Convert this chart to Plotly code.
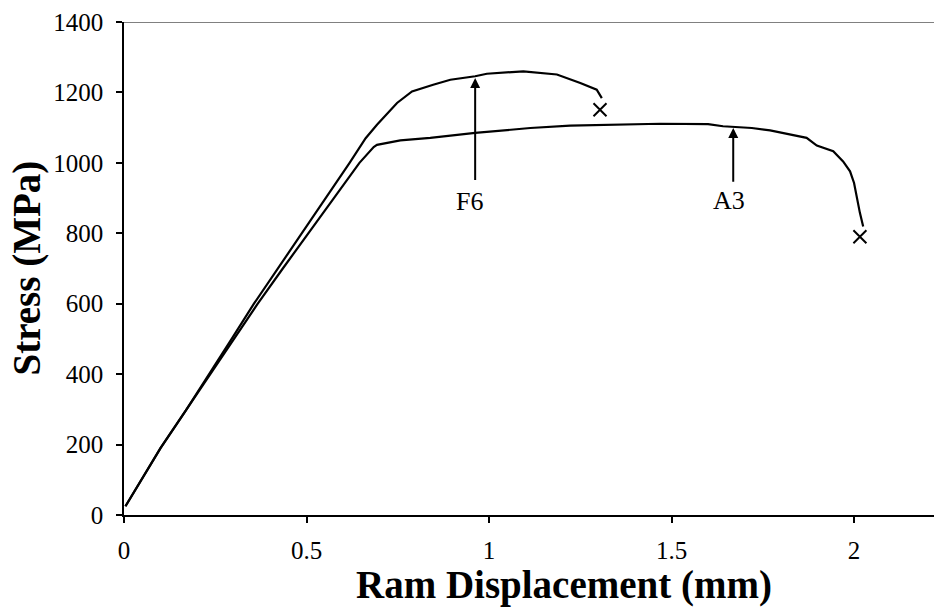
import plotly.graph_objects as go

# A3 specimen (lower curve)
a3_x = [0.004, 0.05, 0.10, 0.17, 0.237, 0.30, 0.365, 0.435, 0.506, 0.575, 0.645, 0.684, 0.693, 0.757,
        0.839, 0.894, 0.962, 1.113, 1.222, 1.469, 1.60, 1.641, 1.72, 1.77, 1.806, 1.87,
        1.898, 1.943, 1.97, 1.989, 2.0, 2.007, 2.016, 2.025]
a3_y = [25, 105, 190, 298, 400, 497, 598, 700, 800, 900, 1000, 1045, 1051, 1064,
        1071, 1077, 1085, 1099, 1106, 1111, 1110, 1104, 1099, 1092, 1085, 1071,
        1049, 1033, 1004, 976, 943, 904, 858, 819]

# F6 specimen (upper curve)
f6_x = [0.004, 0.05, 0.10, 0.17, 0.234, 0.295, 0.356, 0.422, 0.488, 0.553, 0.618, 0.662, 0.693, 0.748,
        0.789, 0.847, 0.894, 0.962, 0.994, 1.094, 1.131, 1.186, 1.25, 1.295, 1.309]
f6_y = [25, 105, 190, 298, 400, 500, 600, 700, 800, 900, 1000, 1070, 1108, 1170,
        1203, 1222, 1236, 1246, 1253, 1260, 1257, 1251, 1227, 1208, 1184]

# fracture points
frac_x = [1.304, 2.016]
frac_y = [1151, 790]

# annotation arrows
labels = ["F6", "A3"]
arrow_x = [0.962, 1.669]
arrow_head_y = [1241, 1099]
arrow_tail_y = [947, 942]
label_x = [0.946, 1.658]
label_y = [890, 893]

x_ticks = [0, 0.5, 1, 1.5, 2]
x_ticktext = ["0", "0.5", "1", "1.5", "2"]
y_ticks = [0, 200, 400, 600, 800, 1000, 1200, 1400]

FONT = "Liberation Serif"

fig = go.Figure()
fig.add_trace(go.Scatter(x=a3_x, y=a3_y, mode="lines",
                         line=dict(color="black", width=2.2), showlegend=False))
fig.add_trace(go.Scatter(x=f6_x, y=f6_y, mode="lines",
                         line=dict(color="black", width=2.2), showlegend=False))
fig.add_trace(go.Scatter(x=frac_x, y=frac_y, mode="markers",
                         marker=dict(symbol="x-thin", size=13, line=dict(color="black", width=2)),
                         showlegend=False))

for i, lab in enumerate(labels):
    fig.add_annotation(x=arrow_x[i], y=arrow_head_y[i], ax=arrow_x[i], ay=arrow_tail_y[i],
                       axref="x", ayref="y", xref="x", yref="y", text="",
                       showarrow=True, arrowhead=2, arrowsize=1, arrowwidth=2,
                       arrowcolor="black", standoff=0, startstandoff=0)
    fig.add_annotation(x=label_x[i], y=label_y[i], xref="x", yref="y", text=lab,
                       showarrow=False, font=dict(family=FONT, size=26, color="black"))

# top border (gray)
fig.add_shape(type="line", xref="paper", yref="y", x0=0, x1=1, y0=1400, y1=1400,
              line=dict(color="#808080", width=2))

# axis titles
fig.add_annotation(x=(564 - 124) / 810, y=(515 - 585) / 493, xref="paper", yref="paper",
                   text="<b>Ram Displacement (mm)</b>", showarrow=False,
                   font=dict(family=FONT, size=39, color="black"), yanchor="middle")
fig.add_annotation(x=(26 - 124) / 810, y=0.5, xref="paper", yref="paper",
                   text="<b>Stress (MPa)</b>", showarrow=False, textangle=-90,
                   font=dict(family=FONT, size=39, color="black"), xanchor="center")

fig.update_layout(
    width=934, height=607,
    margin=dict(l=124, r=0, t=22, b=92),
    plot_bgcolor="white", paper_bgcolor="white",
    font=dict(family=FONT, size=25, color="black"),
    xaxis=dict(range=[0, 2.219], tickvals=x_ticks, ticktext=x_ticktext,
               showline=True, linecolor="black", linewidth=1.5,
               ticks="outside", ticklen=6, tickwidth=1.5, tickcolor="black",
               showgrid=False, zeroline=False, ticklabelstandoff=6),
    yaxis=dict(range=[0, 1400], tickvals=y_ticks,
               showline=True, linecolor="black", linewidth=1.5,
               ticks="outside", ticklen=6, tickwidth=1.5, tickcolor="black",
               showgrid=False, zeroline=False, ticklabelstandoff=8),
)

fig.write_html("out.html")
